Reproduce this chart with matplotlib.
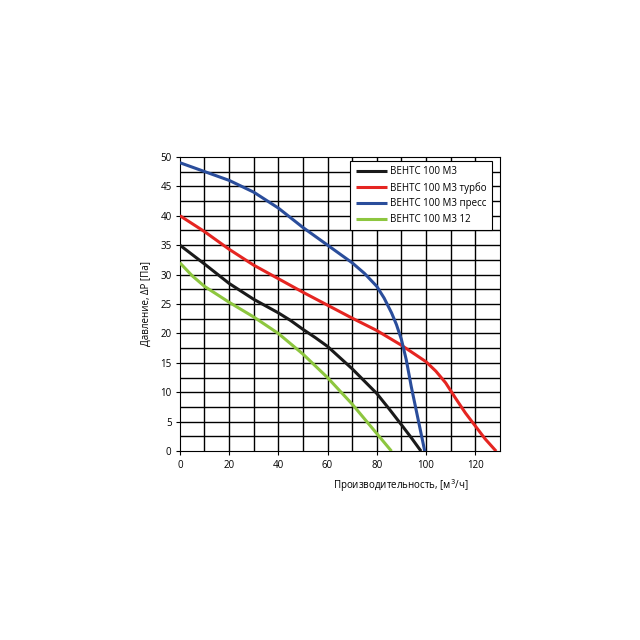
import matplotlib.pyplot as plt

plt.rcParams['font.family'] = ['Open Sans', 'DejaVu Sans']

black_x = [0, 10, 20, 30, 40, 45, 50, 55, 60, 70, 80, 85, 90, 94, 98]
black_y = [35, 31.8, 28.5, 25.8, 23.5, 22.2, 20.7, 19.3, 17.8, 14, 9.8, 7.2, 4.5, 2.3, 0]

red_x = [0, 10, 20, 30, 40, 50, 60, 70, 80, 90, 100, 104, 108, 112, 116, 120, 124, 128.5]
red_y = [40, 37.3, 34.3, 31.6, 29.3, 27, 24.8, 22.6, 20.5, 18, 15.2, 13.6, 11.6, 9, 6.5, 4.3, 2.1, 0]

blue_x = [0, 10, 20, 30, 40, 50, 60, 70, 75, 80, 83, 86, 88, 90, 92, 94, 96, 98, 99.5]
blue_y = [49, 47.5, 46, 44, 41.3, 38, 35, 32, 30.2, 28, 26, 23.5, 21.5, 19, 15.5, 11, 7, 3, 0]

green_x = [0, 5, 10, 20, 30, 40, 50, 60, 70, 80, 86]
green_y = [32, 29.8, 28, 25.3, 22.8, 20, 16.5, 12.5, 8, 3, 0]

labels = ['ВЕНТС 100 М3', 'ВЕНТС 100 М3 турбо', 'ВЕНТС 100 М3 пресс', 'ВЕНТС 100 М3 12']
colors = ['#1a1a1a', '#e52521', '#2a4d9b', '#8dc63f']

fig = plt.figure(figsize=(6.4, 6.4), dpi=100)
ax = fig.add_axes([0.281, 0.295, 0.5, 0.46])

# grid: every 10 on x, every 2.5 on y
for gx in range(10, 130, 10):
    ax.axvline(gx, color='black', lw=1.0, zorder=1)
for i in range(1, 20):
    ax.axhline(i * 2.5, color='black', lw=1.0, zorder=1)

series = [(black_x, black_y), (red_x, red_y), (blue_x, blue_y), (green_x, green_y)]
for (xs, ys), lab, c in zip(series, labels, colors):
    ax.plot(xs, ys, color=c, lw=2.2, label=lab, zorder=3, solid_capstyle='butt')

ax.set_xlim(0, 130)
ax.set_ylim(0, 50)
ax.set_xticks(range(0, 121, 20))
ax.set_yticks(range(0, 51, 5))
ax.tick_params(labelsize=7, length=3, width=0.8, pad=3)
for s in ax.spines.values():
    s.set_linewidth(0.8)

ax.set_ylabel('Давление, ΔP [Па]', fontsize=7, labelpad=6)
ax.set_xlabel('Производительность, [м$^{3}$/ч]', fontsize=7)
ax.xaxis.set_label_coords(0.69, -0.09)

leg = ax.legend(loc='upper right', bbox_to_anchor=(0.975, 0.986), fontsize=7,
                frameon=True, fancybox=False, edgecolor='black', framealpha=1,
                borderpad=0.55, labelspacing=0.48, handlelength=3.2,
                handletextpad=0.3, borderaxespad=0)
leg.get_frame().set_linewidth(0.8)
leg.set_zorder(5)

plt.savefig('out.png', dpi=100)
